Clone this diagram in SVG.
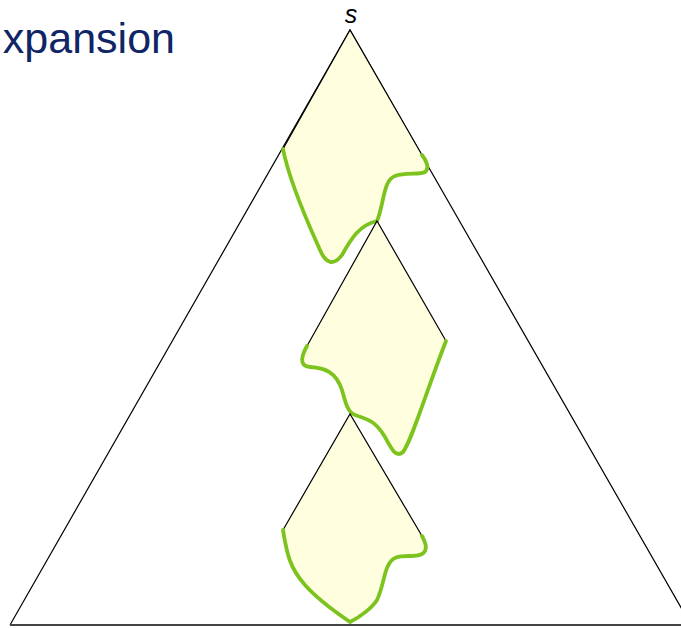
<svg xmlns="http://www.w3.org/2000/svg" width="681" height="628" viewBox="0 0 681 628">
<style>
.fill{fill:#ffffe0;stroke:none}
.edge{fill:none;stroke:#000;stroke-width:1.2}
.front{fill:none;stroke:#7dc31e;stroke-width:3.8;stroke-linecap:round;stroke-linejoin:round}
</style>
<rect width="681" height="628" fill="#fff"/>
<text x="175" y="53" text-anchor="end" font-family="Liberation Sans, Arial, sans-serif" font-size="43" fill="#0f2566">xpansion</text>
<text x="351" y="23" text-anchor="middle" font-family="Liberation Sans, Arial, sans-serif" font-style="italic" font-size="25" fill="#000">s</text>
<g id="tree">
<polyline class="edge" points="10,625 350,30 691,625"/>
<line x1="10" y1="625" x2="681" y2="625" stroke="#444" stroke-width="1.8"/>
</g>
<g id="region1">
<path class="fill" d="M350,30 L283,149 C290,185 312,232 320,250 C326,264 334,266 342,255 C352,237 360,225 377,221 C384,205 383,180 395,176 C405,172 420,175 425,172 C430,168 426,160 422,155 Z"/>
<polyline class="edge" points="283,149 350,30 422,155"/>
<path class="front" d="M283,149 C290,185 312,232 320,250 C326,264 334,266 342,255 C352,237 360,225 377,221 C384,205 383,180 395,176 C405,172 420,175 425,172 C430,168 426,160 422,155"/>
</g>
<g id="region2">
<path class="fill" d="M377,221 L307,346 C302,355 298,366 310,367 C325,368 336,372 342,390 C346,405 348,412 355,415 C370,420 376,422 385,437 C392,450 396,458 403,452 C412,440 425,395 446,341 Z"/>
<polyline class="edge" points="307,346 377,221 446,341"/>
<path class="front" d="M307,346 C302,355 298,366 310,367 C325,368 336,372 342,390 C346,405 348,412 355,415 C370,420 376,422 385,437 C392,450 396,458 403,452 C412,440 425,395 446,341"/>
</g>
<g id="region3">
<path class="fill" d="M350,414 L283,530 C287,555 290,568 305,585 C320,602 340,615 350,622 C360,617 372,608 377,600 C382,590 384,575 387,568 C392,555 400,556 412,556 C425,556 430,550 422,536 Z"/>
<polyline class="edge" points="283,530 350,414 422,536"/>
<path class="front" d="M283,530 C287,555 290,568 305,585 C320,602 340,615 350,622 C360,617 372,608 377,600 C382,590 384,575 387,568 C392,555 400,556 412,556 C425,556 430,550 422,536"/>
</g>
</svg>
